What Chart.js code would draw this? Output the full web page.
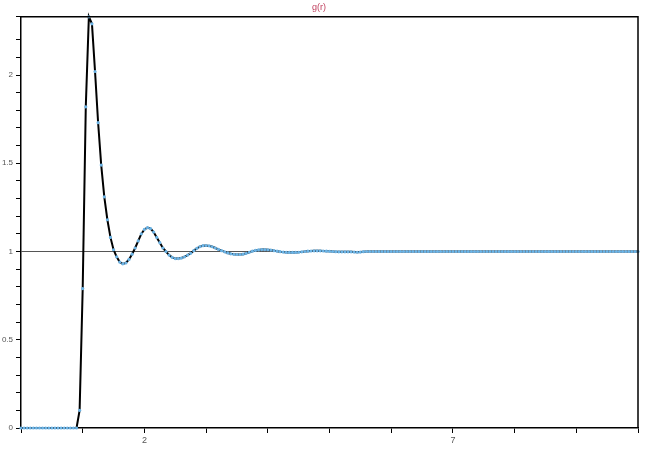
<!DOCTYPE html>
<html>
<head>
<meta charset="utf-8">
<script src="https://cdn.jsdelivr.net/npm/chart.js@4/dist/chart.umd.min.js"></script>
<style>
  html, body { margin: 0; padding: 0; background: #fff; }
  #wrap { width: 647px; height: 450px; }
</style>
</head>
<body>
<div id="wrap"><canvas id="chartGr" width="647" height="450"></canvas></div>
<script>
// g(r) sampled every 0.05 from r = 0 to r = 10
const rStart = 0;
const rStep = 0.05;
const gValues = [
  0, 0, 0, 0, 0, 0, 0, 0, 0, 0,            // 0.00 - 0.45
  0, 0, 0, 0, 0, 0, 0, 0, 0, 0.10,         // 0.50 - 0.95
  0.79, 1.82, 2.33, 2.29, 2.02, 1.73, 1.49, 1.31, 1.18, 1.08,   // 1.00 - 1.45
  1.01, 0.97, 0.94, 0.93, 0.935, 0.955, 0.985, 1.02, 1.06, 1.10, // 1.50 - 1.95
  1.125, 1.135, 1.13, 1.11, 1.08, 1.05, 1.02, 1.00, 0.98, 0.967, // 2.00 - 2.45
  0.96, 0.96, 0.963, 0.97, 0.98, 0.99, 1.005, 1.018, 1.028, 1.033, // 2.50 - 2.95
  1.034, 1.032, 1.027, 1.02, 1.012, 1.005, 0.998, 0.992, 0.987, 0.984, // 3.00 - 3.45
  0.983, 0.983, 0.985, 0.99, 0.996, 1.002, 1.006, 1.009, 1.011, 1.011, // 3.50 - 3.95
  1.01, 1.008, 1.005, 1.002, 0.999, 0.997, 0.995, 0.995, 0.995, 0.995, // 4.00 - 4.45
  0.996, 0.998, 1.0, 1.002, 1.003, 1.004, 1.004, 1.004, 1.003, 1.002,  // 4.50 - 4.95
  1.001, 1.0, 0.999, 0.998, 0.998, 0.998, 0.998, 0.998, 0.997, 0.996,  // 5.00 - 5.45
  0.997, 0.999, 1, 1, 1, 1, 1, 1, 1, 1,    // 5.50 - 5.95
  1, 1, 1, 1, 1, 1, 1, 1, 1, 1,            // 6.00 - 6.45
  1, 1, 1, 1, 1, 1, 1, 1, 1, 1,            // 6.50 - 6.95
  1, 1, 1, 1, 1, 1, 1, 1, 1, 1,            // 7.00 - 7.45
  1, 1, 1, 1, 1, 1, 1, 1, 1, 1,            // 7.50 - 7.95
  1, 1, 1, 1, 1, 1, 1, 1, 1, 1,            // 8.00 - 8.45
  1, 1, 1, 1, 1, 1, 1, 1, 1, 1,            // 8.50 - 8.95
  1, 1, 1, 1, 1, 1, 1, 1, 1, 1,            // 9.00 - 9.45
  1, 1, 1, 1, 1, 1, 1, 1, 1, 1,            // 9.50 - 9.95
  1                                         // 10.00
];

const xTickLabels = [2, 7];
const yTickLabels = [0, 0.5, 1, 1.5, 2];
const chartTitle = 'g(r)';

const points = gValues.map((g, i) => ({ x: rStart + i * rStep, y: g }));

function hasLabel(list, v) {
  return list.some(t => Math.abs(t - v) < 1e-6);
}

// caixa fechada em volta da área do gráfico (topo e direita)
const frameBox = {
  id: 'frameBox',
  afterDraw(chart) {
    const { ctx, chartArea: a } = chart;
    ctx.save();
    ctx.strokeStyle = '#000';
    ctx.lineWidth = 1.5;
    ctx.beginPath();
    ctx.moveTo(a.left, a.top);
    ctx.lineTo(a.right, a.top);
    ctx.lineTo(a.right, a.bottom);
    ctx.stroke();
    ctx.restore();
  }
};

const ctxGr = document.getElementById('chartGr').getContext('2d');
new Chart(ctxGr, {
  type: 'line',
  data: {
    datasets: [{
      label: chartTitle,
      data: points,
      borderColor: '#000',
      borderWidth: 2,
      tension: 0,
      pointRadius: 1.6,
      pointBorderWidth: 0,
      pointBackgroundColor: '#6cb4e6',
      pointHoverRadius: 0,
      clip: false
    }]
  },
  options: {
    responsive: false,
    animation: false,
    layout: { padding: { right: 9, left: 0, top: 0, bottom: 0 } },
    plugins: {
      legend: { display: false },
      tooltip: { enabled: false },
      title: {
        display: true,
        text: chartTitle,
        color: '#c0405e',
        font: { family: 'Liberation Sans', size: 9, weight: 'normal' },
        padding: { top: 2, bottom: 4 }
      }
    },
    scales: {
      x: {
        type: 'linear',
        min: 0,
        max: 10,
        afterFit: s => { s.height = 22; },
        border: { color: '#000', width: 1.5 },
        grid: { drawOnChartArea: false, tickLength: 5, color: '#000' },
        ticks: {
          stepSize: 1,
          autoSkip: false,
          maxRotation: 0,
          padding: 2,
          color: '#555',
          font: { family: 'Liberation Sans', size: 9 },
          callback: v => hasLabel(xTickLabels, v) ? String(v) : ''
        }
      },
      y: {
        min: 0,
        max: 2.33,
        afterFit: s => { s.width = 21; },
        border: { color: '#000', width: 1.5 },
        grid: {
          tickLength: 5,
          tickColor: '#000',
          color: c => (c.tick && Math.abs(c.tick.value - 1) < 1e-6) ? '#555' : 'rgba(0,0,0,0)',
          lineWidth: 1
        },
        ticks: {
          stepSize: 0.1,
          autoSkip: false,
          padding: 3,
          color: '#555',
          font: { family: 'Liberation Sans', size: 8 },
          callback: v => hasLabel(yTickLabels, v) ? String(v) : ''
        }
      }
    }
  },
  plugins: [frameBox]
});
</script>
</body>
</html>
